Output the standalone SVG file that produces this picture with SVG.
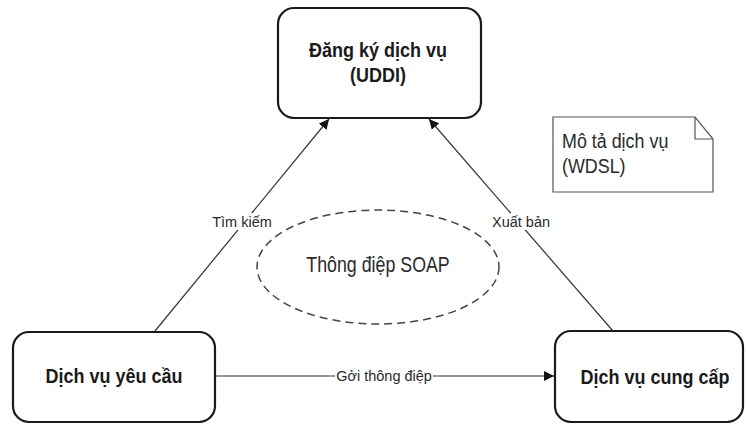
<svg xmlns="http://www.w3.org/2000/svg" width="747" height="424" viewBox="0 0 747 424">
  <style>
    .box { fill: #ffffff; stroke: #1a1a1a; stroke-width: 2.2; }
    .title { font-family: "Liberation Sans", Arial, sans-serif; font-size: 18px; font-weight: bold; fill: #1a1a1a; text-anchor: middle; }
    .plain { font-family: "Liberation Sans", Arial, sans-serif; fill: #2a2a2a; }
    .edge { stroke: #333333; stroke-width: 1.2; fill: none; marker-end: url(#arrow); }
    .lbl { font-family: "Liberation Sans", Arial, sans-serif; font-size: 14.5px; fill: #2a2a2a; text-anchor: middle; }
    .lblbg { fill: #ffffff; }
  </style>
  <defs>
    <marker id="arrow" viewBox="0 0 10 10" refX="10" refY="5" markerWidth="10" markerHeight="10" markerUnits="userSpaceOnUse" orient="auto">
      <path d="M0,0 L10,5 L0,10 Z" fill="#111111"/>
    </marker>
  </defs>

  <rect width="747" height="424" fill="#ffffff"/>

  <!-- connectors -->
  <g id="connectors">
    <line class="edge" x1="155" y1="331" x2="329" y2="119"/>
    <line class="edge" x1="613" y1="331" x2="429" y2="119"/>
    <line class="edge" x1="215" y1="376" x2="554" y2="376"/>
    <rect class="lblbg" x="212" y="213" width="62" height="17"/>
    <text class="lbl" transform="translate(242,227) scale(1,1.05)">Tìm kiếm</text>
    <rect class="lblbg" x="491" y="213" width="60" height="17"/>
    <text class="lbl" transform="translate(521,227) scale(1,1.05)">Xuất bản</text>
    <rect class="lblbg" x="335" y="367" width="98" height="17"/>
    <text class="lbl" transform="translate(384,381) scale(1,1.05)">Gởi thông điệp</text>
  </g>

  <!-- service registry -->
  <g id="registry">
    <rect class="box" x="278" y="8" width="203" height="110" rx="16"/>
    <text class="title" transform="translate(378,57) scale(1,1.15)">Đăng ký dịch vụ</text>
    <text class="title" transform="translate(378,82) scale(1,1.15)">(UDDI)</text>
  </g>

  <!-- service description note -->
  <g id="wsdl-note">
    <path d="M553,117 L695,117 L713,139 L713,192 L553,192 Z" fill="#ffffff" stroke="#555555" stroke-width="1.2"/>
    <path d="M695,117 L695,139 L713,139" fill="none" stroke="#555555" stroke-width="1.2"/>
    <text class="plain" font-size="17.9" transform="translate(562,148) scale(1,1.15)">Mô tả dịch vụ</text>
    <text class="plain" font-size="17.9" transform="translate(562,173) scale(1,1.15)">(WDSL)</text>
  </g>

  <!-- SOAP message -->
  <g id="soap">
    <ellipse cx="378" cy="267" rx="121" ry="57" fill="none" stroke="#444444" stroke-width="1.5" stroke-dasharray="8,5"/>
    <text class="plain" font-size="17.8" text-anchor="middle" transform="translate(378,272) scale(1,1.2)">Thông điệp SOAP</text>
  </g>

  <!-- service requester -->
  <g id="requester">
    <rect class="box" x="13" y="332" width="202" height="90" rx="16"/>
    <text class="title" transform="translate(114,383) scale(1,1.15)">Dịch vụ yêu cầu</text>
  </g>

  <!-- service provider -->
  <g id="provider">
    <rect class="box" x="555" y="331" width="188" height="91" rx="16"/>
    <text class="title" transform="translate(655,384) scale(1,1.15)">Dịch vụ cung cấp</text>
  </g>
</svg>
